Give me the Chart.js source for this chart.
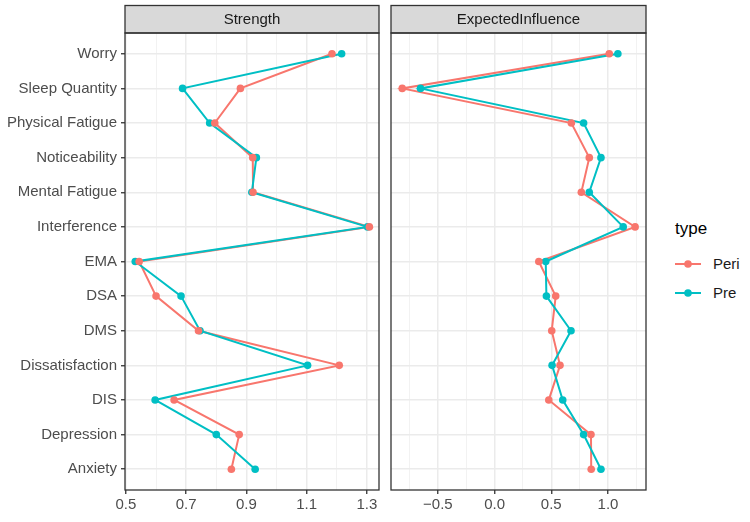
<!DOCTYPE html>
<html>
<head>
<meta charset="utf-8">
<script src="https://cdn.jsdelivr.net/npm/chart.js@4/dist/chart.umd.min.js"></script>
<style>
  body { margin: 0; background: #fff; }
  #wrap { position: relative; width: 750px; height: 522px; font-family: "Liberation Sans", Arial, sans-serif; }
  #wrap canvas { position: absolute; top: 0; }
  #legend { position: absolute; left: 675px; top: 219px; color: #000; }
  #legend .title { font-size: 17px; margin-bottom: 10px; }
  #legend .row { display: flex; align-items: center; height: 29px; font-size: 15px; color: #1a1a1a; }
  #legend svg { margin-right: 12px; }
</style>
</head>
<body>
<div id="wrap">
  <canvas id="strength-chart" style="left:0px" width="385" height="522"></canvas>
  <canvas id="ei-chart" style="left:385px" width="265" height="522"></canvas>
  <div id="legend">
    <div class="title">type</div>
    <div class="row"><svg width="26" height="10"><line x1="0" y1="5" x2="26" y2="5" stroke="#F8766D" stroke-width="2"/><circle cx="13" cy="5" r="3.8" fill="#F8766D"/></svg>Peri</div>
    <div class="row"><svg width="26" height="10"><line x1="0" y1="5" x2="26" y2="5" stroke="#00BFC4" stroke-width="2"/><circle cx="13" cy="5" r="3.8" fill="#00BFC4"/></svg>Pre</div>
  </div>
</div>
<script>
const categories = ['Worry', 'Sleep Quantity', 'Physical Fatigue', 'Noticeability', 'Mental Fatigue',
  'Interference', 'EMA', 'DSA', 'DMS', 'Dissatisfaction', 'DIS', 'Depression', 'Anxiety'];

const strengthPeri = [1.184, 0.880, 0.795, 0.921, 0.922, 1.308, 0.544, 0.600, 0.741, 1.208, 0.660, 0.876, 0.850];
const strengthPre = [1.216, 0.688, 0.778, 0.933, 0.918, 1.302, 0.531, 0.683, 0.746, 1.103, 0.597, 0.800, 0.929];
const eiPeri = [1.011, -0.814, 0.677, 0.835, 0.765, 1.239, 0.390, 0.539, 0.504, 0.577, 0.478, 0.850, 0.852];
const eiPre = [1.087, -0.653, 0.785, 0.938, 0.835, 1.134, 0.451, 0.457, 0.674, 0.507, 0.601, 0.785, 0.938];

const strengthTicks = [0.5, 0.7, 0.9, 1.1, 1.3];
const eiTicks = [-0.5, 0.0, 0.5, 1.0];

const PERI = '#F8766D';
const PRE = '#00BFC4';
const FONT = '"Liberation Sans", Arial, sans-serif';

Chart.defaults.font.family = FONT;
Chart.defaults.font.size = 15;
Chart.defaults.color = '#4D4D4D';

// strip on top + dark border round the panel
const panelFrame = {
  id: 'panelFrame',
  afterDraw(chart, args, options) {
    const { ctx, chartArea: { left, top, right, bottom } } = chart;
    ctx.save();
    ctx.fillStyle = '#D9D9D9';
    ctx.fillRect(left, 5.5, right - left, top - 5.5);
    ctx.strokeStyle = '#333333';
    ctx.lineWidth = 1.3;
    ctx.strokeRect(left, 5.5, right - left, top - 5.5);
    ctx.strokeRect(left, top, right - left, bottom - top);
    ctx.fillStyle = '#1A1A1A';
    ctx.font = '15px ' + FONT;
    ctx.textAlign = 'center';
    ctx.textBaseline = 'middle';
    ctx.fillText(options.title, (left + right) / 2, (5.5 + top) / 2 + 1);
    ctx.restore();
  },
};

function toPoints(values) {
  return values.map((v, i) => ({ x: v, y: i }));
}

function fmt(v) {
  const s = Math.abs(v).toFixed(1);
  return v < -1e-9 ? '\u2212' + s : s;
}

function makeDatasets(peri, pre) {
  return [
    { data: toPoints(peri), showLine: false, pointRadius: 3.8, pointBorderWidth: 0, backgroundColor: PERI, order: 0 },
    { data: toPoints(pre), showLine: false, pointRadius: 3.8, pointBorderWidth: 0, backgroundColor: PRE, order: 1 },
    { data: toPoints(pre), showLine: true, pointRadius: 0, borderColor: PRE, borderWidth: 2, order: 2 },
    { data: toPoints(peri), showLine: true, pointRadius: 0, borderColor: PERI, borderWidth: 2, order: 3 },
  ];
}

function makeConfig(title, peri, pre, majors, min, max, showY, pad) {
  const minors = [];
  for (let i = 0; i < majors.length; i++) {
    const step = majors.length > 1 ? majors[1] - majors[0] : 1;
    minors.push(majors[i] - step / 2);
    if (i === majors.length - 1) minors.push(majors[i] + step / 2);
  }
  const all = majors.concat(minors.filter((m) => m >= min && m <= max)).sort((a, b) => a - b);
  const isMajor = (v) => majors.some((m) => Math.abs(m - v) < 1e-6);

  return {
    type: 'scatter',
    data: { datasets: makeDatasets(peri, pre) },
    options: {
      responsive: false,
      animation: false,
      events: [],
      layout: { padding: { top: 33, right: pad.right, left: 0, bottom: 0 } },
      plugins: {
        legend: { display: false },
        tooltip: { enabled: false },
        panelFrame: { title: title },
      },
      scales: {
        x: {
          type: 'linear',
          min: min,
          max: max,
          afterBuildTicks: (scale) => { scale.ticks = all.map((v) => ({ value: v })); },
          afterFit: (scale) => { scale.height = 32; },
          border: { display: false },
          grid: {
            color: (c) => (isMajor(c.tick.value) ? '#EBEBEB' : '#F2F2F2'),
            lineWidth: (c) => (isMajor(c.tick.value) ? 1.5 : 1),
            tickColor: (c) => (isMajor(c.tick.value) ? '#333333' : 'rgba(0,0,0,0)'),
            tickLength: 4,
            tickWidth: 1.3,
          },
          ticks: {
            autoSkip: false,
            maxRotation: 0,
            padding: 2,
            color: '#4D4D4D',
            callback: (v) => (isMajor(v) ? fmt(v) : ''),
          },
        },
        y: {
          type: 'linear',
          reverse: true,
          min: -0.6,
          max: 12.6,
          afterBuildTicks: (scale) => { scale.ticks = categories.map((c, i) => ({ value: i })); },
          afterFit: (scale) => { scale.width = pad.yWidth; },
          border: { display: false },
          grid: {
            color: '#EBEBEB',
            lineWidth: 1.5,
            drawTicks: showY,
            tickColor: '#333333',
            tickLength: 4,
            tickWidth: 1.3,
          },
          ticks: {
            display: showY,
            autoSkip: false,
            padding: 4,
            color: '#4D4D4D',
            callback: (v) => categories[v],
          },
        },
      },
    },
    plugins: [panelFrame],
  };
}

const strengthCtx = document.getElementById('strength-chart').getContext('2d');
const strengthChart = new Chart(strengthCtx,
  makeConfig('Strength', strengthPeri, strengthPre, strengthTicks, 0.497, 1.340, true, { right: 6, yWidth: 125 }));

const eiCtx = document.getElementById('ei-chart').getContext('2d');
const eiChart = new Chart(eiCtx,
  makeConfig('ExpectedInfluence', eiPeri, eiPre, eiTicks, -0.913, 1.335, false, { right: 3, yWidth: 6 }));
</script>
</body>
</html>
